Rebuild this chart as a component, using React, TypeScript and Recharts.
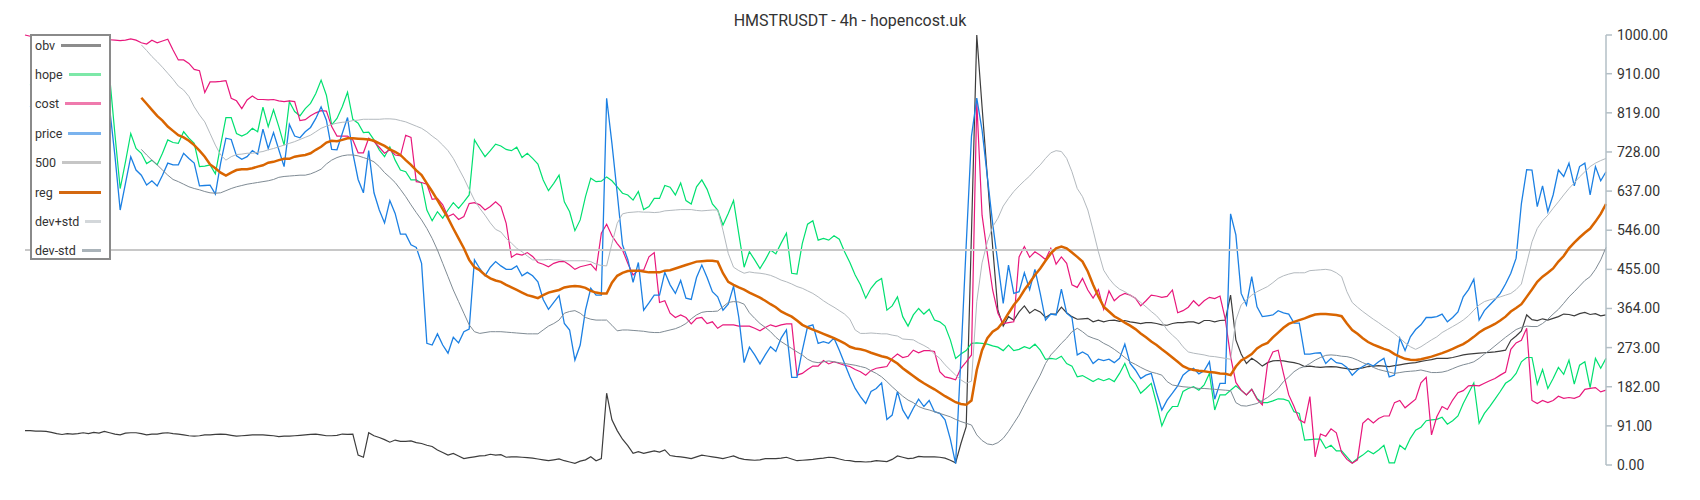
import React from "react";
import { LineChart, Line, XAxis, YAxis, ReferenceLine } from "recharts";

const TITLE = "HMSTRUSDT - 4h - hopencost.uk";
const Y_TICKS = [0, 91, 182, 273, 364, 455, 546, 637, 728, 819, 910, 1000];
const LEVEL_500 = 500;
const BAND_START = 22;

const obv = [
  80, 80, 79, 79, 78, 76, 73, 71, 73, 72, 73, 75, 73, 76, 74, 78, 75, 72, 70, 74,
  75, 75, 73, 70, 72, 72, 74, 75, 73, 72, 70, 68, 67, 68, 70, 70, 71, 72, 71, 69,
  67, 68, 69, 70, 70, 70, 69, 68, 66, 67, 67, 68, 69, 70, 71, 72, 70, 68, 68, 69,
  72, 71, 72, 23, 18, 75, 68, 64, 59, 53, 58, 55, 55, 56, 52, 50, 46, 43, 35, 29,
  23, 27, 21, 15, 17, 19, 21, 22, 25, 23, 24, 18, 19, 19, 18, 17, 16, 14, 12, 10,
  12, 14, 10, 7, 4, 9, 12, 19, 10, 15, 167, 105, 80, 60, 45, 27, 31, 27, 30, 33,
  30, 35, 22, 20, 19, 17, 15, 19, 23, 21, 19, 17, 15, 18, 21, 16, 13, 12, 11, 12,
  15, 15, 15, 16, 18, 14, 10, 11, 12, 13, 15, 16, 18, 17, 14, 11, 10, 8, 8, 7,
  8, 10, 9, 8, 13, 21, 18, 15, 16, 20, 19, 19, 19, 18, 16, 11, 5, 50, 89, 540,
  1000, 833, 670, 508, 360, 323, 345, 337, 356, 370, 353, 362, 356, 343, 351, 351, 367, 354, 345, 339,
  340, 341, 333, 337, 333, 336, 337, 334, 336, 333, 331, 329, 331, 331, 329, 326, 325, 329, 331, 331,
  333, 333, 329, 336, 336, 333, 336, 337, 395, 291, 258, 236, 248, 240, 230, 238, 242, 243, 242, 240,
  238, 235, 229, 230, 228, 227, 228, 229, 228, 226, 224, 222, 224, 226, 229, 230, 231, 230, 229, 231,
  233, 235, 237, 238, 241, 243, 245, 248, 248, 248, 250, 253, 256, 258, 259, 260, 261, 262, 263, 265,
  267, 290, 300, 312, 349, 338, 336, 340, 337, 341, 345, 351, 350, 347, 352, 355, 350, 352, 347, 349,
];

const hope = [
  null, 885, 860, 880, 900, 875, 860, 870, 890, 905, 885, 870, 880, 910, 895, 900,
  905, 770, 643, 705, 771, 736, 725, 701, 709, 698, 725, 756, 750, 748,
  775, 760, 748, 694, 695, 698, 677, 744, 808, 808, 771, 765, 771, 783, 775, 832, 787, 826, 787, 744,
  845, 822, 812, 829, 841, 864, 895, 860, 791, 806, 833, 867, 804, 795, 773, 774, 756, 733, 717, 740,
  709, 686, 682, 663, 663, 655, 593, 568, 589, 574, 593, 610, 597, 612, 628, 756, 736, 717, 731, 746,
  742, 734, 731, 739, 715, 725, 713, 700, 663, 638, 655, 674, 612, 589, 545, 570, 624, 667, 659, 660,
  670, 661, 647, 632, 628, 616, 636, 594, 601, 620, 620, 650, 646, 628, 656, 615, 607, 647, 663, 641,
  607, 593, 558, 585, 615, 537, 460, 496, 477, 457, 477, 500, 491, 516, 539, 446, 444, 515, 560, 568,
  523, 527, 523, 533, 525, 496, 471, 442, 419, 388, 411, 426, 434, 360, 370, 391, 345, 323, 349, 364,
  351, 362, 337, 333, 323, 291, 248, 258, 266, 283, 284, 283, 281, 277, 274, 266, 279, 266, 269, 275,
  271, 281, 267, 246, 248, 246, 253, 236, 230, 205, 208, 201, 194, 201, 196, 201, 194, 213, 236, 205,
  190, 167, 178, 190, 143, 91, 120, 136, 136, 171, 178, 182, 174, 186, 213, 128, 163, 163, 174, 184,
  174, 163, 176, 155, 145, 145, 149, 154, 153, 149, 124, 120, 58, 59, 60, 60, 39, 46, 33, 33,
  19, 5, 15, 23, 33, 26, 35, 46, 5, 5, 46, 36, 62, 81, 88, 103, 105, 106, 111, 95,
  103, 114, 143, 167, 191, 97, 120, 136, 153, 171, 190, 198, 213, 240, 250, 250, 188, 222, 178, 201,
  227, 211, 244, 188, 232, 240, 180, 248, 225, 248,
];

const cost = [
  1000, 997, 994, 992, 995, 993, 990, 992, 994, 991, 989, 990, 992, 990, 988, 990, 989,
  988, 987, 988, 991, 988, 982, 979, 988, 982, 986, 990, 965, 942,
  942, 934, 920, 917, 866, 891, 891, 892, 894, 853, 847, 829, 849, 858, 850, 850, 849, 850, 847, 845,
  847, 845, 801, 803, 812, 819, 824, 823, 787, 765, 765, 765, 756, 726, 726, 760, 752, 739, 725, 733,
  721, 719, 767, 762, 659, 657, 653, 618, 620, 605, 578, 584, 571, 578, 608, 610, 605, 593, 601, 612,
  601, 562, 483, 491, 488, 494, 485, 471, 467, 461, 469, 473, 473, 465, 455, 461, 464, 467, 453, 539,
  560, 533, 515, 500, 469, 442, 453, 453, 484, 494, 378, 382, 353, 343, 349, 343, 328, 341, 343, 329,
  333, 318, 326, 326, 326, 323, 323, 323, 318, 312, 320, 326, 322, 326, 328, 328, 209, 213, 222, 230,
  230, 243, 235, 240, 236, 232, 229, 222, 217, 209, 220, 225, 227, 229, 248, 258, 250, 253, 267, 261,
  266, 266, 264, 217, 205, 202, 198, 225, 240, 256, 845, 581, 492, 407, 353, 329, 331, 333, 484, 508,
  483, 496, 488, 478, 504, 467, 484, 469, 419, 413, 434, 407, 388, 408, 362, 405, 382, 393, 399, 395,
  388, 370, 382, 395, 393, 390, 392, 407, 354, 359, 367, 382, 370, 382, 390, 387, 393, 339, 252, 192,
  174, 163, 176, 153, 140, 236, 263, 267, 213, 163, 136, 105, 98, 159, 19, 72, 67, 84, 75, 29,
  13, 4, 12, 97, 108, 98, 108, 114, 114, 145, 150, 133, 143, 153, 191, 204, 70, 112, 136, 129,
  151, 168, 173, 184, 185, 184, 190, 196, 201, 209, 216, 269, 284, 290, 318, 150, 143, 150, 145, 150,
  160, 155, 157, 155, 160, 176, 178, 180, 170, 174,
];

const price = [
  null, 835, 810, 830, 850, 825, 810, 820, 840, 855, 835, 820, 830, 860, 845, 850,
  830, 720, 593, 655, 717, 686, 674, 651, 661, 649, 674, 702, 698, 698,
  725, 713, 702, 649, 650, 651, 630, 702, 760, 757, 719, 711, 717, 731, 723, 781, 736, 773, 733, 694,
  792, 765, 761, 775, 785, 806, 833, 802, 734, 733, 771, 808, 725, 664, 633, 731, 633, 593, 563, 615,
  585, 537, 537, 512, 506, 469, 283, 279, 305, 279, 260, 297, 284, 310, 316, 477, 457, 440, 460, 473,
  463, 455, 455, 463, 440, 448, 440, 426, 385, 362, 378, 394, 329, 314, 244, 279, 360, 411, 395, 395,
  853, 748, 632, 512, 478, 425, 471, 360, 377, 395, 395, 448, 419, 399, 429, 388, 385, 436, 465, 436,
  403, 391, 360, 374, 416, 343, 238, 274, 256, 235, 256, 275, 264, 295, 314, 204, 204, 266, 322, 326,
  283, 287, 283, 295, 267, 236, 205, 178, 159, 143, 171, 178, 191, 106, 116, 171, 128, 108, 132, 153,
  136, 150, 124, 120, 105, 60, 3, 250, 511, 765, 853, 779, 670, 562, 469, 376, 465, 399, 403, 447,
  408, 455, 399, 337, 351, 349, 409, 353, 343, 256, 263, 256, 236, 246, 243, 246, 238, 248, 281, 236,
  221, 201, 209, 213, 168, 128, 151, 167, 184, 209, 219, 225, 212, 219, 240, 153, 190, 190, 584, 535,
  399, 372, 438, 368, 345, 347, 349, 359, 354, 351, 330, 330, 258, 258, 260, 261, 236, 248, 238, 236,
  227, 209, 221, 229, 236, 230, 240, 248, 205, 209, 295, 266, 298, 315, 326, 343, 343, 345, 351, 333,
  343, 356, 391, 408, 432, 337, 359, 372, 385, 399, 421, 446, 481, 608, 687, 686, 601, 649, 589, 628,
  686, 671, 702, 649, 694, 702, 628, 694, 661, 682,
];

// regression line and its +/- std band begin at candle 22
const reg = [
  854, 840, 826, 812, 801, 787, 777, 767,
  762, 754, 744, 731, 717, 699, 690, 680, 673, 680, 686, 688, 688, 690, 694, 697, 703, 705, 709, 712,
  712, 717, 719, 721, 725, 733, 740, 750, 754, 753, 756, 760, 760, 759, 758, 757, 754, 748, 742, 734,
  728, 721, 709, 698, 685, 674, 655, 636, 616, 595, 574, 550, 527, 504, 477, 460, 453, 442, 434, 429,
  426, 419, 413, 407, 401, 395, 392, 388, 395, 401, 404, 407, 413, 415, 416, 415, 412, 405, 401, 399,
  399, 424, 440, 447, 451, 452, 452, 450, 448, 448, 448, 452, 453, 457, 461, 465, 469, 473, 474, 475,
  475, 473, 446, 426, 419, 413, 408, 401, 395, 389, 382, 374, 367, 357, 351, 345, 336, 326, 320, 315,
  310, 305, 300, 295, 289, 283, 275, 271, 269, 266, 261, 257, 253, 250, 244, 236, 225, 216, 207, 198,
  190, 183, 176, 168, 160, 153, 146, 142, 140, 150, 221, 267, 295, 310, 318, 333, 353, 372, 387, 407,
  424, 442, 457, 475, 492, 504, 508, 504, 494, 484, 473, 450, 419, 392, 368, 357, 346, 339, 331, 324,
  316, 306, 297, 287, 279, 269, 260, 250, 240, 230, 224, 221, 219, 218, 216, 215, 213, 212, 209, 229,
  243, 250, 258, 271, 279, 284, 297, 308, 319, 328, 333, 337, 341, 346, 350, 351, 351, 350, 349, 346,
  329, 314, 305, 295, 286, 280, 275, 270, 266, 258, 252, 247, 245, 244, 246, 249, 252, 256, 260, 265,
  270, 276, 281, 289, 298, 308, 316, 322, 328, 336, 345, 357, 365, 374, 391, 408, 426, 438, 447, 457,
  473, 486, 504, 517, 529, 540, 550, 566, 584, 607,
];

const devPlus = [
  977, 964, 950, 938, 925, 911, 897, 881,
  872, 857, 833, 814, 798, 771, 744, 721, 709, 717, 722, 723, 725, 725, 727, 729, 733, 736, 740, 744,
  748, 752, 757, 762, 767, 775, 783, 788, 792, 795, 797, 798, 801, 802, 804, 804, 804, 804, 805, 805,
  804, 801, 798, 793, 788, 783, 775, 765, 756, 744, 731, 713, 690, 667, 641, 616, 597, 581, 563, 548,
  542, 527, 516, 504, 496, 486, 477, 477, 477, 478, 477, 477, 475, 475, 475, 475, 475, 473, 467, 464,
  463, 515, 562, 584, 587, 588, 589, 588, 588, 587, 588, 591, 592, 593, 594, 594, 594, 592, 591, 592,
  593, 593, 546, 492, 460, 452, 446, 449, 447, 446, 444, 441, 436, 430, 426, 421, 415, 411, 405, 399,
  391, 382, 374, 367, 359, 351, 339, 314, 306, 306, 307, 306, 305, 305, 302, 300, 293, 292, 291, 284,
  278, 271, 258, 248, 233, 221, 209, 198, 190, 195, 380, 470, 519, 554, 574, 602, 620, 636, 649, 661,
  672, 686, 698, 713, 726, 731, 729, 713, 682, 643, 624, 593, 546, 496, 453, 434, 419, 409, 403, 395,
  388, 378, 368, 357, 347, 333, 314, 302, 291, 275, 263, 260, 258, 256, 253, 252, 250, 248, 246, 337,
  372, 384, 395, 403, 409, 415, 424, 434, 440, 444, 447, 447, 447, 452, 453, 454, 455, 453, 447, 438,
  403, 378, 367, 357, 348, 339, 331, 322, 314, 305, 295, 284, 275, 269, 275, 283, 291, 298, 308, 315,
  322, 329, 337, 347, 360, 372, 380, 384, 387, 391, 395, 399, 408, 421, 469, 519, 550, 568, 581, 597,
  612, 628, 643, 656, 670, 682, 694, 702, 708, 713,
];

const devMinus = [
  734, 721, 709, 698, 686, 674, 664, 659,
  653, 647, 643, 640, 636, 633, 632, 633, 638, 643, 647, 650, 653, 655, 657, 659, 661, 664, 669, 671,
  672, 673, 674, 674, 677, 682, 688, 700, 709, 715, 719, 721, 721, 719, 715, 711, 705, 694, 680, 669,
  657, 641, 624, 605, 587, 570, 550, 527, 500, 469, 438, 407, 380, 353, 326, 310, 306, 308, 310, 310,
  310, 309, 308, 307, 306, 305, 305, 305, 314, 323, 329, 337, 353, 357, 359, 353, 343, 339, 337, 337,
  337, 325, 312, 314, 314, 313, 312, 311, 309, 308, 308, 311, 314, 317, 322, 329, 340, 349, 355, 357,
  357, 358, 368, 378, 380, 379, 374, 354, 341, 329, 320, 310, 297, 287, 279, 271, 263, 256, 246, 240,
  238, 240, 242, 240, 238, 236, 234, 232, 229, 226, 219, 213, 205, 194, 182, 171, 160, 151, 145, 136,
  131, 128, 124, 120, 116, 112, 106, 101, 97, 93, 70, 57, 49, 47, 52, 62, 78, 97, 116, 140,
  163, 186, 209, 236, 256, 269, 283, 295, 310, 318, 310, 300, 295, 291, 283, 277, 269, 260, 250, 240,
  234, 227, 221, 216, 213, 209, 194, 186, 184, 182, 181, 180, 178, 178, 177, 176, 175, 174, 173, 145,
  138, 137, 140, 143, 150, 157, 167, 178, 194, 205, 217, 225, 229, 236, 244, 250, 255, 256, 255, 253,
  252, 249, 244, 238, 233, 227, 222, 219, 216, 213, 215, 217, 218, 219, 221, 218, 215, 215, 216, 219,
  224, 229, 233, 236, 240, 248, 258, 267, 277, 287, 297, 306, 315, 320, 323, 322, 322, 329, 339, 351,
  362, 376, 391, 403, 416, 429, 438, 455, 477, 506,
];

const band = (arr: number[], i: number) => (i < BAND_START ? null : arr[i - BAND_START]);

const data = obv.map((v, i) => ({
  i,
  obv: v,
  hope: hope[i],
  cost: cost[i],
  price: price[i],
  reg: band(reg, i),
  devPlus: band(devPlus, i),
  devMinus: band(devMinus, i),
}));

const LINE_COLORS = {
  obv: "#3d3d3d",
  hope: "#00e070",
  cost: "#e8187c",
  price: "#1c80e3",
  level: "#c8c8c8",
  reg: "#d96500",
  devPlus: "#b3b9be",
  devMinus: "#7f8b94",
};

const legendItems = [
  { name: "obv", color: "#8c8c8c" },
  { name: "hope", color: "#7de8a8" },
  { name: "cost", color: "#ef7aad" },
  { name: "price", color: "#7ab3ee" },
  { name: "500", color: "#c6c6c6" },
  { name: "reg", color: "#d46810" },
  { name: "dev+std", color: "#d3d7da" },
  { name: "dev-std", color: "#aab3b9" },
];

const FONT = "Roboto, 'Noto Sans', sans-serif";

export default function App() {
  return (
    <div style={{ position: "relative", width: 1684, height: 480, fontFamily: FONT, background: "#fff" }}>
      <LineChart
        width={1684}
        height={470}
        data={data}
        margin={{ top: 27, right: 6, bottom: 13, left: 17 }}
      >
        <XAxis dataKey="i" type="number" domain={[0, 299]} hide />
        <YAxis
          orientation="right"
          domain={[0, 1000]}
          ticks={Y_TICKS}
          interval={0}
          width={80}
          tickFormatter={(v: number) => v.toFixed(2)}
          tick={{ fontSize: 14, fill: "#333", fontFamily: FONT }}
          axisLine={{ stroke: "#b3bfc6", strokeWidth: 1.5 }}
          tickLine={{ stroke: "#b3bfc6", strokeWidth: 1.5 }}
          tickSize={6}
          tickMargin={5}
        />
        <Line dataKey="obv" stroke={LINE_COLORS.obv} strokeWidth={1.2} dot={false} activeDot={false} isAnimationActive={false} />
        <Line dataKey="hope" stroke={LINE_COLORS.hope} strokeWidth={1.2} dot={false} activeDot={false} isAnimationActive={false} />
        <Line dataKey="cost" stroke={LINE_COLORS.cost} strokeWidth={1.2} dot={false} activeDot={false} isAnimationActive={false} />
        <Line dataKey="price" stroke={LINE_COLORS.price} strokeWidth={1.3} dot={false} activeDot={false} isAnimationActive={false} />
        <ReferenceLine y={LEVEL_500} stroke={LINE_COLORS.level} strokeWidth={2} />
        <Line dataKey="reg" stroke={LINE_COLORS.reg} strokeWidth={2.5} dot={false} activeDot={false} isAnimationActive={false} />
        <Line dataKey="devPlus" stroke={LINE_COLORS.devPlus} strokeWidth={1} dot={false} activeDot={false} isAnimationActive={false} />
        <Line dataKey="devMinus" stroke={LINE_COLORS.devMinus} strokeWidth={1} dot={false} activeDot={false} isAnimationActive={false} />
      </LineChart>

      <div
        style={{
          position: "absolute",
          top: 3,
          left: 0,
          width: 1684,
          textAlign: "center",
          fontSize: 16,
          lineHeight: "20px",
          color: "#333",
        }}
      >
        {TITLE}
      </div>

      <div
        style={{
          position: "absolute",
          left: 22,
          top: 26,
          width: 81,
          height: 226,
          boxSizing: "border-box",
          border: "2px solid #8a8a8a",
          background: "#fff",
        }}
      >
        {legendItems.map((it, k) => (
          <div
            key={it.name}
            style={{
              position: "absolute",
              left: 3,
              right: 8,
              top: 9 + 29.4 * k - 8,
              height: 16,
              display: "flex",
              alignItems: "center",
            }}
          >
            <span style={{ fontSize: 12.5, color: "#333", whiteSpace: "nowrap" }}>{it.name}</span>
            <span style={{ flex: 1, height: 3, marginLeft: 6, background: it.color }} />
          </div>
        ))}
      </div>
    </div>
  );
}
